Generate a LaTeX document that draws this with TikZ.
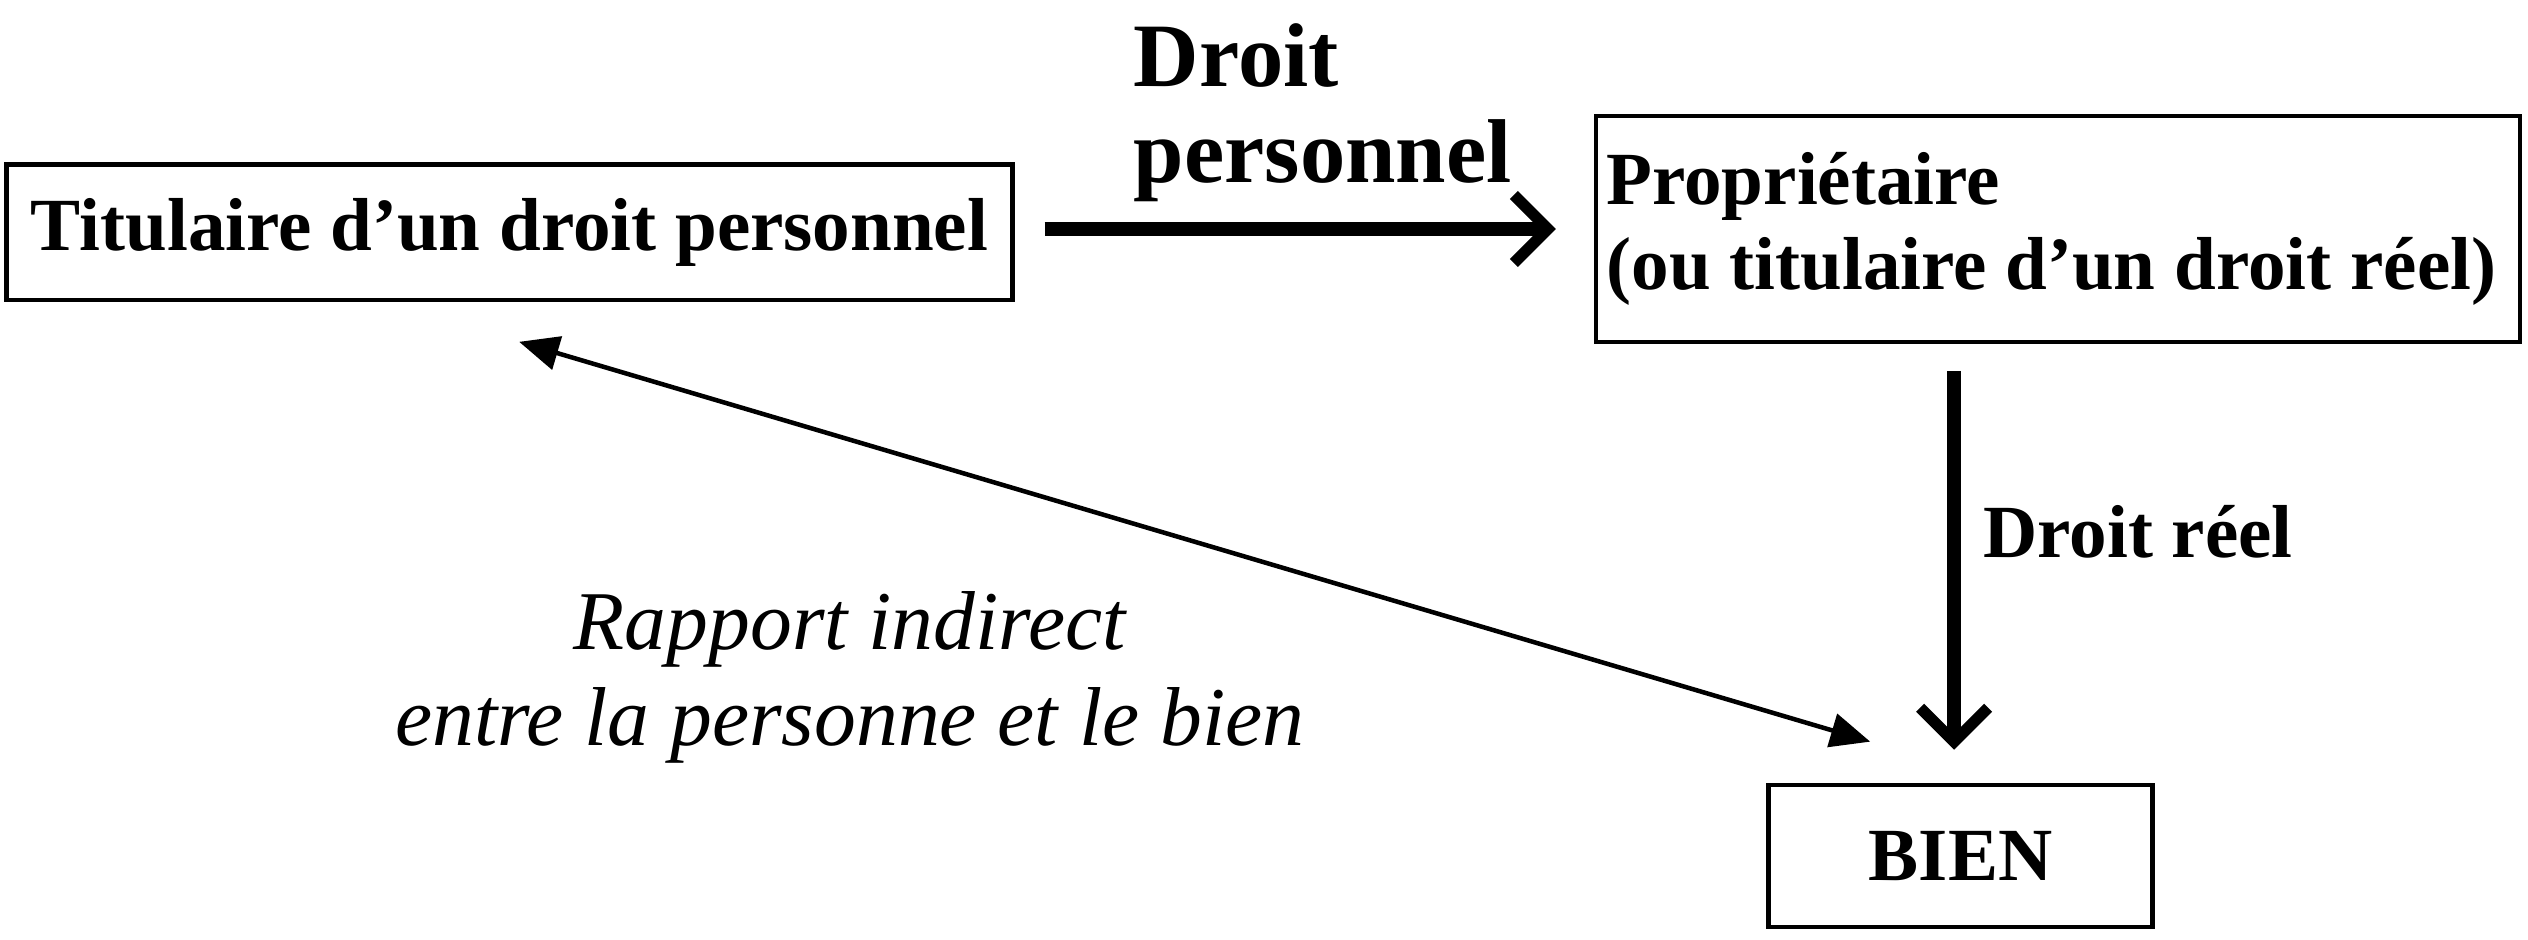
\documentclass[tikz,border=0pt]{standalone}
\usepackage{fontspec}
\setmainfont{Liberation Serif}
\usetikzlibrary{arrows.meta}
\begin{document}
\begin{tikzpicture}[x=0.02cm,y=-0.02cm,
  box/.style={draw,line width=1.6pt,inner sep=0pt,font=\bfseries\fontsize{26.5}{30}\selectfont},
  lab/.style={font=\bfseries\fontsize{26.5}{30}\selectfont,inner sep=0pt},
  thick arrow/.style={line width=5pt,-{Straight Barb[length=12pt,width=24pt,line width=4pt]}},
  thin arrow/.style={line width=1.6pt,{Triangle[length=14pt,width=12pt]}-{Triangle[length=14pt,width=12pt]}}]
\useasboundingbox (0,0) rectangle (1568,583);
\node[box,minimum width=624*0.02cm,minimum height=84*0.02cm] (t) at (316,144) {Titulaire d’un droit personnel};
\node[box,minimum width=573*0.02cm,minimum height=140*0.02cm,align=flush left,text width=560*0.02cm] (p) at (1276.5,142) {\baselineskip=30pt Propriétaire\\(ou titulaire d’un droit réel)};
\node[box,minimum width=238*0.02cm,minimum height=88*0.02cm] (b) at (1216,531) {BIEN};
\coordinate (a1) at (648,142); \coordinate (a2) at (965,142);
\draw[thick arrow] (a1) -- (a2);
\node[lab,anchor=west,align=left,font=\bfseries\fontsize{32}{34}\selectfont] (dp) at (703,70) {Droit\\personnel};
\coordinate (v1) at (1212,230); \coordinate (v2) at (1212,465);
\draw[thick arrow] (v1) -- (v2);
\node[lab,anchor=west] (dr) at (1230,330) {Droit réel};
\coordinate (d1) at (322,212); \coordinate (d2) at (1160,460);
\draw[thin arrow] (d1) -- (d2);
\node[font=\itshape\fontsize{29.5}{34}\selectfont,align=center,inner sep=0pt] (ri) at (527,420) {Rapport indirect\\entre la personne et le bien};
\end{tikzpicture}
\end{document}
